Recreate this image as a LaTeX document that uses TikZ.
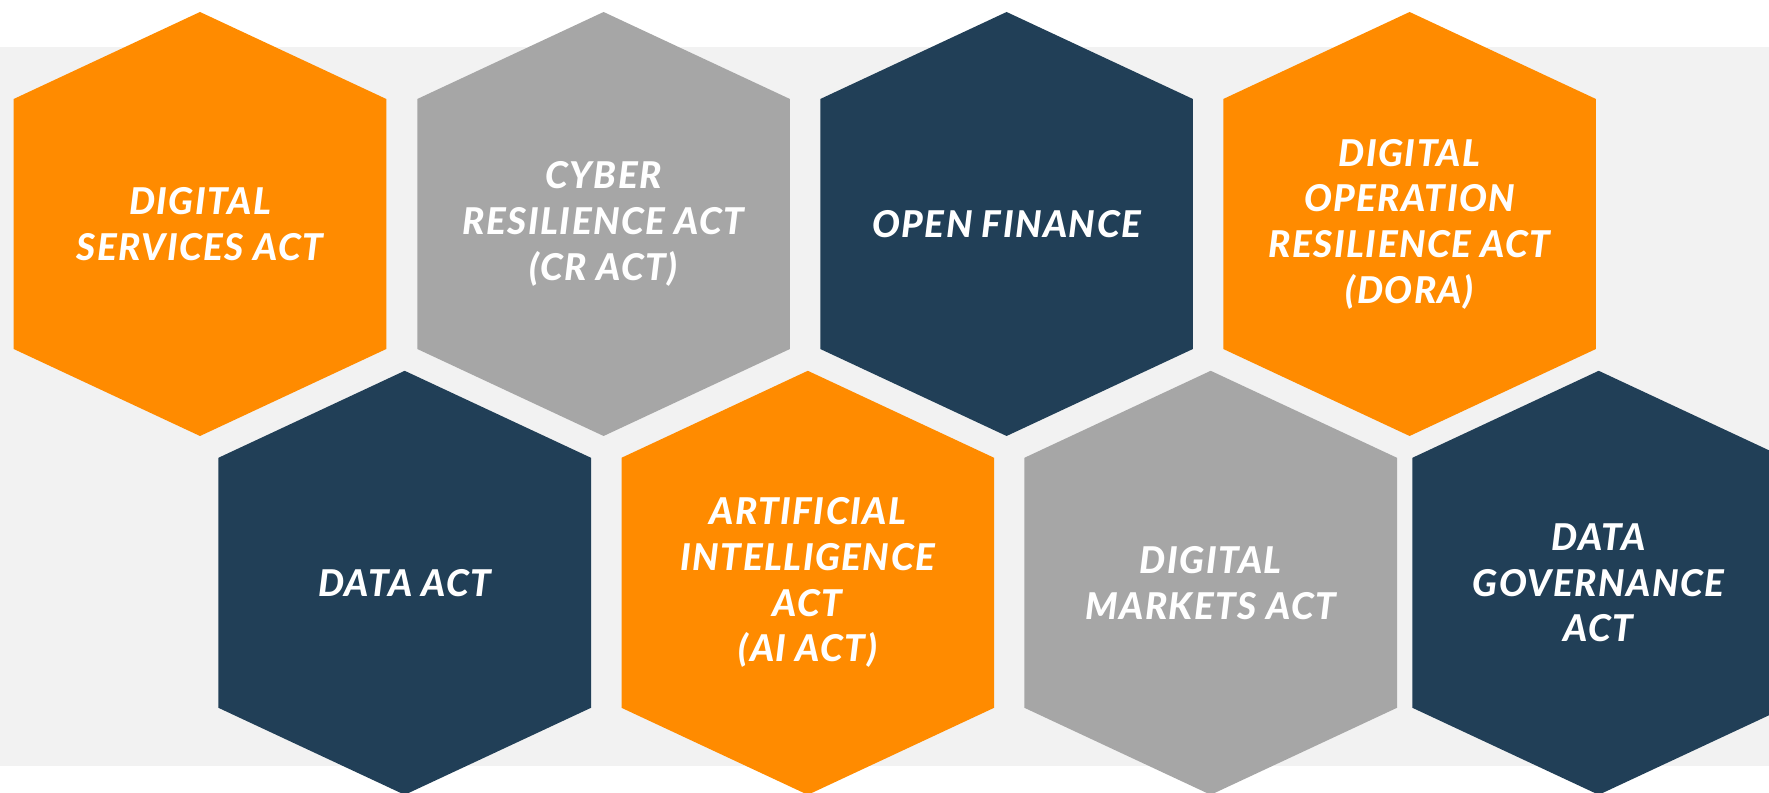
\documentclass[tikz,border=0pt]{standalone}
\usepackage{fontspec}
\setmainfont{Lato}[BoldItalicFont={Lato Black Italic},BoldItalicFeatures={LetterSpace=4}]
\usepackage{tikz}
\usetikzlibrary{calc}

\definecolor{actorange}{RGB}{255,139,0}
\definecolor{actnavy}{RGB}{33,63,87}
\definecolor{actgray}{RGB}{166,166,166}
\definecolor{bandgray}{RGB}{242,242,242}

\begin{document}
\begin{tikzpicture}
		[x=0.02cm,y=-0.02cm,
		hexlabel/.style={text=white,align=center,font=\fontsize{21}{26}\selectfont\bfseries\itshape},]
		\useasboundingbox (0,0) rectangle (1769,793);
		\fill[bandgray] (0,46.7) rectangle (1769,765.7);
		
		\foreach \cx/\cy/\col/\nm/\txt in {
			200/224/actorange/dsa/{DIGITAL\\SERVICES ACT},
			603.6/224/actgray/cra/{CYBER\\RESILIENCE ACT\\(CR ACT)},
			1006.6/224/actnavy/ofin/{OPEN FINANCE},
			1409.6/224/actorange/dora/{DIGITAL\\OPERATION\\RESILIENCE ACT\\(DORA)},
			404.7/582.8/actnavy/da/{DATA ACT},
			807.8/582.8/actorange/aia/{ARTIFICIAL\\INTELLIGENCE\\ACT\\(AI ACT)},
			1210.7/582.8/actgray/dma/{DIGITAL\\MARKETS ACT},
			1598.7/582.8/actnavy/dga/{DATA\\GOVERNANCE\\ACT}}{
			\fill[\col] (\cx,\cy) ++(0,-212) -- ++(186.3,87) -- ++(0,250) -- ++(-186.3,87)
				-- ++(-186.3,-87) -- ++(0,-250) -- cycle;
			\node[hexlabel] (\nm) at (\cx,\cy) {\txt};
		}
		
	\end{tikzpicture}
\end{document}
